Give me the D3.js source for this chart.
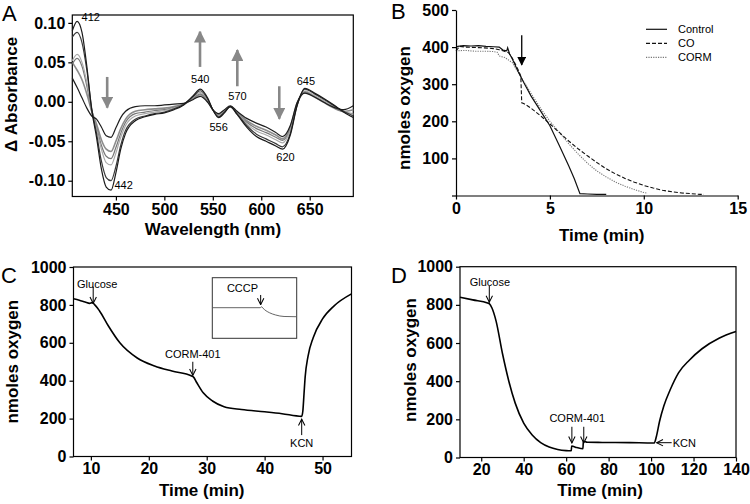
<!DOCTYPE html>
<html><head><meta charset="utf-8">
<script src="https://cdn.jsdelivr.net/npm/d3@7"></script>
<style>body{margin:0;background:#fff} text{font-family:Arial,"Liberation Sans",sans-serif}</style>
</head><body><svg id="c" width="750" height="504"></svg>
<script>
// ---------- Panel A data ----------
const wavelengths = [405,410,415,420,425,430,435,440,445,450,455,460,470,480,490,500,510,520,530,537,545,550,556,562,568,575,585,595,605,615,622,630,637,645,655,665,675,685,695];
const spec1 = [.090,.102,.088,.045,-.010,-.045,-.085,-.108,-.112,-.090,-.060,-.040,-.024,-.019,-.016,-.014,-.010,-.004,.008,.016,.004,-.010,-.020,-.014,-.006,-.016,-.032,-.044,-.050,-.056,-.060,-.042,-.005,.017,.011,.004,-.004,-.013,-.020];
const spec2 = [.082,.088,.075,.040,-.008,-.040,-.075,-.096,-.100,-.082,-.055,-.036,-.022,-.018,-.015,-.013,-.009,-.003,.007,.014,.003,-.010,-.019,-.013,-.006,-.015,-.030,-.041,-.047,-.053,-.057,-.040,-.004,.016,.010,.003,-.005,-.012,-.018];
const spec3 = [.052,.060,.050,.025,-.010,-.035,-.060,-.077,-.080,-.065,-.045,-.030,-.018,-.015,-.013,-.011,-.008,-.003,.006,.012,.002,-.010,-.018,-.012,-.006,-.014,-.028,-.037,-.042,-.048,-.052,-.036,-.004,.014,.008,.001,-.006,-.012,-.016];
const spec4 = [.048,.055,.045,.020,-.012,-.032,-.055,-.069,-.072,-.058,-.040,-.026,-.015,-.013,-.011,-.010,-.007,-.003,.005,.010,.001,-.010,-.017,-.012,-.006,-.014,-.026,-.034,-.039,-.045,-.049,-.034,-.003,.013,.007,.000,-.007,-.013,-.015];
const spec5 = [.050,.040,.028,.010,-.012,-.028,-.048,-.060,-.063,-.050,-.034,-.022,-.012,-.010,-.009,-.008,-.006,-.003,.004,.009,.000,-.010,-.016,-.011,-.006,-.013,-.024,-.031,-.036,-.042,-.047,-.032,-.002,.012,.006,-.001,-.008,-.012,-.010];
const spec6 = [.030,.018,.005,-.008,-.018,-.022,-.032,-.043,-.045,-.033,-.020,-.012,-.006,-.005,-.005,-.004,-.003,-.002,.003,.007,-.001,-.010,-.015,-.010,-.005,-.012,-.021,-.027,-.032,-.039,-.044,-.030,-.001,.011,.006,-.001,-.007,-.010,-.005];
const aXTicks = [450,500,550,600,650];
const aYTicks = [-0.10,-0.05,0.00,0.05,0.10];
const aPeakLabels = [["412",424,0.1075],["442",458,-0.105],["540",537,0.0286],["570",575.5,0.007],["556",556,-0.0325],["620",625,-0.0694],["645",646,0.026]];

// ---------- Panel B data ----------
const bTimeControl = [0,0.1,0.4,0.8,1.2,1.6,2.0,2.3,2.5,2.7,2.75,2.85,3.0,3.3,3.6,4.0,4.5,5.0,5.5,6.0,6.3,6.6,7.0,7.5,8.0];
const bControl     = [398,402,404,403,404,402,401,400,392,390,398,382,368,335,305,268,228,188,135,80,45,5,4,3,3];
const bTimeCO = [0,0.2,0.5,1,1.5,2,2.3,2.5,2.8,3.0,3.3,3.45,3.5,3.6,3.8,4.0,4.5,5,5.5,6,6.5,7,7.5,8,8.5,9,9.5,10,10.5,11,11.5,12,12.5,13,13.2];
const bCO     = [390,402,400,399,398,396,393,390,385,370,340,322,250,248,242,235,215,193,170,147,126,107,89,72,58,46,36,27,20,14,10,7,5,3,3];
const bTimeCORM = [0,0.5,1,1.5,2,2.2,2.3,2.6,3.0,3.3,3.6,4.0,4.5,5,5.5,6,6.5,7,7.5,8,8.5,9,9.5,10,10.2];
const bCORM     = [390,391,389,389,388,386,376,372,358,333,308,275,235,200,170,140,112,87,66,50,36,25,16,8,6];
const bXTicks = [0,5,10,15];
const bYTicks = [0,100,200,300,400,500];
const bLegend = ["Control","CO","CORM"];

// ---------- Panel C data ----------
const cTime   = [7,8,9,9.8,10.2,10.6,11.5,13,15,18,21,24,27.4,27.7,28.3,29.4,31,33,36,40,43,46.4,46.6,46.8,47.0,47.5,48.4,50,52,55];
const cOxygen = [832,825,815,808,812,803,768,690,600,520,478,451,425,420,389,336,293,263,248,236,226,212,240,330,420,530,628,726,795,858];
const cInsetX = [0,57,58,62,68,75,85,100];
const cInsetY = [50.5,50.5,52,47,42,38.5,36,35.6];
const cXTicks = [10,20,30,40,50];
const cYTicks = [0,200,400,600,800,1000];

// ---------- Panel D data ----------
const dTime   = [10,16,23,23.8,25,27,30,33,36,40,44,48,52,56,60,62.4,62.6,65,67.9,68.1,70,77,90,101,101.5,102.5,104,106,109,113,118,124,132,140];
const dOxygen = [840,826,810,806,785,715,545,400,285,180,118,78,55,42,36,35,60,52,46,85,80,79,78,76,76,110,190,270,355,445,510,570,625,660];
const dXTicks = [20,40,60,80,100,120,140];
const dYTicks = [0,200,400,600,800,1000];

// ---------- drawing ----------
const svg = d3.select("#c");
const defs = svg.append("defs");
function marker(id, fill, open, w, h){
  const m = defs.append("marker").attr("id",id).attr("viewBox","0 0 10 10").attr("refX",9).attr("refY",5)
    .attr("markerWidth",w).attr("markerHeight",h).attr("orient","auto").attr("markerUnits","userSpaceOnUse");
  if(open) m.append("path").attr("d","M1,1 L9,5 L1,9").attr("fill","none").attr("stroke",fill).attr("stroke-width",1.3);
  else m.append("path").attr("d","M0,0 L10,5 L0,10 Z").attr("fill",fill);
}
marker("grayHead","#888",false,12,12);
marker("blackHead","#000",false,9,9);
marker("openHead","#000",true,8,8);

const tickFont = "bold 16px Arial, 'Liberation Sans', sans-serif";
const fmtInt = d3.format("d");
function styleAxis(g){
  g.selectAll("path.domain").attr("stroke","#000").attr("stroke-width",1.2);
  g.selectAll(".tick line").attr("stroke","#000").attr("stroke-width",1.2);
  g.selectAll(".tick text").attr("fill","#000").style("font",tickFont);
}
function title(txt,x,y,rot){
  const t = svg.append("text").text(txt).attr("text-anchor","middle")
    .style("font","bold 17px Arial, 'Liberation Sans', sans-serif");
  if(rot) t.attr("transform",`translate(${x},${y}) rotate(-90)`); else t.attr("x",x).attr("y",y);
}
function letter(txt,x,y){
  svg.append("text").text(txt).attr("x",x).attr("y",y).style("font","22px Arial, 'Liberation Sans', sans-serif");
}
function smallText(txt,x,y,anchor){
  svg.append("text").text(txt).attr("x",x).attr("y",y).attr("text-anchor",anchor||"middle")
    .attr("dominant-baseline","central").style("font","11px Arial, 'Liberation Sans', sans-serif");
}
function arrow(x1,y1,x2,y2,color,width,mk){
  svg.append("line").attr("x1",x1).attr("y1",y1).attr("x2",x2).attr("y2",y2)
    .attr("stroke",color).attr("stroke-width",width).attr("marker-end",`url(#${mk})`);
}

// ===== Panel A =====
{
  const x = d3.scaleLinear().domain([405,695]).range([72.3,353.3]);
  const y = d3.scaleLinear().domain([-0.12,0.11]).range([196.5,15]);
  svg.append("rect").attr("x",72.3).attr("y",15).attr("width",281).attr("height",181.5)
    .attr("fill","none").attr("stroke","#000").attr("stroke-width",1.2);
  const series = [spec5,spec4,spec3,spec2,spec6,spec1];
  const colors = ["#8c8c8c","#777","#aaa","#3a3a3a","#1e1e1e","#1a1a1a"];
  const line = d3.line().x((d,i)=>x(wavelengths[i])).y(d=>y(d)).curve(d3.curveMonotoneX);
  series.forEach((s,k)=>svg.append("path").datum(s).attr("d",line).attr("fill","none")
    .attr("stroke",colors[k]).attr("stroke-width",k===0?1.6:1.2));
  const gx = svg.append("g").attr("transform","translate(0,196.5)")
    .call(d3.axisBottom(x).tickValues(aXTicks).tickSize(4).tickPadding(3).tickSizeOuter(0));
  styleAxis(gx); gx.select("path.domain").remove();
  const gy = svg.append("g").attr("transform","translate(72.3,0)")
    .call(d3.axisLeft(y).tickValues(aYTicks).tickFormat(d=>d3.format(".2f")(d).replace("\u2212","-")).tickSize(4).tickSizeOuter(0));
  styleAxis(gy); gy.select("path.domain").remove();
  aPeakLabels.forEach(p=>smallText(p[0],x(p[1]),y(p[2])));
  arrow(x(441),y(0.0315),x(441),y(-0.0074),"#888",2.6,"grayHead");
  arrow(x(536.8),y(0.0442),x(536.8),y(0.0888),"#888",2.6,"grayHead");
  arrow(x(575.3),y(0.0197),x(575.3),y(0.0655),"#888",2.6,"grayHead");
  arrow(x(618.6),y(0.0197),x(618.6),y(-0.0214),"#888",2.6,"grayHead");
  title("\u0394 Absorbance",17,94.5,true);
  title("Wavelength (nm)",213,235,false);
  letter("A",2,21);
}

// ===== Panel B =====
{
  const x = d3.scaleLinear().domain([0,15]).range([456,737.7]);
  const y = d3.scaleLinear().domain([0,500]).range([195.5,10]);
  const mk = (ts,vs)=>d3.line().x((d,i)=>x(ts[i])).y(d=>y(d))(vs);
  svg.append("path").attr("d",mk(bTimeCORM,bCORM)).attr("fill","none").attr("stroke","#777").attr("stroke-width",1.1).attr("stroke-dasharray","1.2,1.2");
  svg.append("path").attr("d",mk(bTimeCO,bCO)).attr("fill","none").attr("stroke","#111").attr("stroke-width",1.1).attr("stroke-dasharray","4,2");
  svg.append("path").attr("d",mk(bTimeControl,bControl)).attr("fill","none").attr("stroke","#111").attr("stroke-width",1.2);
  const gx = svg.append("g").attr("transform","translate(0,195.5)")
    .call(d3.axisBottom(x).tickValues(bXTicks).tickSize(4).tickSizeOuter(0));
  styleAxis(gx);
  const gy = svg.append("g").attr("transform","translate(456,0)")
    .call(d3.axisLeft(y).tickValues(bYTicks).tickFormat(d=>d===0?"":fmtInt(d)).tickSize(4).tickSizeOuter(0));
  styleAxis(gy);
  const dashes = [null,"4,2","1.2,1.2"], lc = ["#111","#111","#777"];
  bLegend.forEach((n,i)=>{
    const yy = 29.3 + i*14;
    svg.append("line").attr("x1",646).attr("x2",667).attr("y1",yy).attr("y2",yy)
      .attr("stroke",lc[i]).attr("stroke-width",1.2).attr("stroke-dasharray",dashes[i]);
    smallText(n,678,yy,"start");
  });
  arrow(x(3.5),y(432),x(3.5),y(352),"#000",1.3,"blackHead");
  title("nmoles oxygen",410,108,true);
  title("Time (min)",601.7,241,false);
  letter("B",391,19);
}

// ===== Panel C =====
{
  const x = d3.scaleLinear().domain([7,55]).range([73.5,351.5]);
  const y = d3.scaleLinear().domain([0,1000]).range([456.5,267]);
  svg.append("rect").attr("x",73.5).attr("y",267).attr("width",278).attr("height",189.5)
    .attr("fill","none").attr("stroke","#000").attr("stroke-width",1.2);
  svg.append("path").attr("d",d3.line().x((d,i)=>x(cTime[i])).y(d=>y(d)).curve(d3.curveMonotoneX)(cOxygen))
    .attr("fill","none").attr("stroke","#000").attr("stroke-width",1.6);
  const gx = svg.append("g").attr("transform","translate(0,456.5)")
    .call(d3.axisBottom(x).tickValues(cXTicks).tickFormat(fmtInt).tickSize(4).tickPadding(2).tickSizeOuter(0));
  styleAxis(gx); gx.select("path.domain").remove();
  const gy = svg.append("g").attr("transform","translate(73.5,0)")
    .call(d3.axisLeft(y).tickValues(cYTicks).tickFormat(fmtInt).tickSize(4).tickSizeOuter(0));
  styleAxis(gy); gy.select("path.domain").remove();
  // inset
  const ix = d3.scaleLinear().domain([0,100]).range([212.3,296.7]);
  const iy = d3.scaleLinear().domain([0,100]).range([338.3,277.7]);
  svg.append("rect").attr("x",212.3).attr("y",277.7).attr("width",84.4).attr("height",60.6)
    .attr("fill","#fff").attr("stroke","#333").attr("stroke-width",1);
  svg.append("path").attr("d",d3.line().x((d,i)=>ix(cInsetX[i])).y(d=>iy(d)).curve(d3.curveMonotoneX)(cInsetY))
    .attr("fill","none").attr("stroke","#555").attr("stroke-width",0.9);
  smallText("CCCP",ix(35.8),iy(83));
  arrow(ix(57.3),iy(71.5),ix(57.3),iy(55.5),"#000",1,"openHead");
  smallText("Glucose",x(11.1),y(910));
  arrow(x(10.4),y(896),x(10.4),y(808),"#000",1,"openHead");
  smallText("CORM-401",x(27.6),y(541));
  arrow(x(27.6),y(500),x(27.6),y(428),"#000",1,"openHead");
  smallText("KCN",x(46.4),y(73));
  arrow(x(46.4),y(113),x(46.4),y(197),"#000",1,"openHead");
  title("nmoles oxygen",18,361.7,true);
  title("Time (min)",201.7,496,false);
  letter("C",1,283);
}

// ===== Panel D =====
{
  const x = d3.scaleLinear().domain([10,140]).range([460,736]);
  const y = d3.scaleLinear().domain([0,1000]).range([457.5,266.7]);
  svg.append("rect").attr("x",460).attr("y",266.7).attr("width",276).attr("height",190.8)
    .attr("fill","none").attr("stroke","#000").attr("stroke-width",1.2);
  svg.append("path").attr("d",d3.line().x((d,i)=>x(dTime[i])).y(d=>y(d)).curve(d3.curveMonotoneX)(dOxygen))
    .attr("fill","none").attr("stroke","#000").attr("stroke-width",1.6);
  const gx = svg.append("g").attr("transform","translate(0,457.5)")
    .call(d3.axisBottom(x).tickValues(dXTicks).tickFormat(fmtInt).tickSize(4).tickPadding(2).tickSizeOuter(0));
  styleAxis(gx); gx.select("path.domain").remove();
  const gy = svg.append("g").attr("transform","translate(460,0)")
    .call(d3.axisLeft(y).tickValues(dYTicks).tickFormat(fmtInt).tickSize(4).tickSizeOuter(0));
  styleAxis(gy); gy.select("path.domain").remove();
  smallText("Glucose",x(24.1),y(918));
  arrow(x(23.8),y(899),x(23.8),y(814),"#000",1,"openHead");
  smallText("CORM-401",x(65.2),y(208.6));
  arrow(x(62.7),y(161),x(62.7),y(76),"#000",1,"openHead");
  arrow(x(68.3),y(161),x(68.3),y(76),"#000",1,"openHead");
  arrow(x(109.7),y(77.6),x(102.6),y(77.6),"#000",1,"openHead");
  smallText("KCN",x(110.2),y(77.6),"start");
  title("nmoles oxygen",416,360,true);
  title("Time (min)",600,496,false);
  letter("D",391,283);
}
</script></body></html>
